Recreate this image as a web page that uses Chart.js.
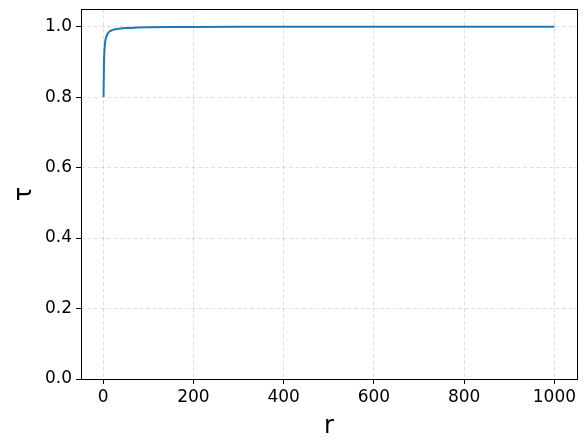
<!DOCTYPE html>
<html>
<head>
<meta charset="utf-8">
<script src="https://cdn.jsdelivr.net/npm/chart.js@4/dist/chart.umd.min.js"></script>
<style>
    html, body { margin: 0; padding: 0; background: #fff; }
    #wrap { width: 588px; height: 447px; }
</style>
</head>
<body>
<div id="wrap"><canvas id="c"></canvas></div>
<script>
// values
var rValues = [1, 2, 3, 4, 5, 7, 10, 15, 20, 30, 50, 75, 100, 150, 200, 300, 500, 700, 1000];
var tauValues = [0.80, 0.90, 0.933, 0.95, 0.96, 0.971, 0.98, 0.987, 0.99, 0.993, 0.996, 0.9973, 0.998, 0.9987, 0.999, 0.9993, 0.9996, 0.9997, 0.9998];
var xTicks = [0, 200, 400, 600, 800, 1000];
var yTicks = [0.0, 0.2, 0.4, 0.6, 0.8, 1.0];

var FONT = "'DejaVu Sans', sans-serif";

var points = rValues.map(function (r, i) { return { x: r, y: tauValues[i] }; });

/* ---- box around plot area, like matplotlib spines ---- */
var frame = {
    id: 'frame',
    afterDraw: function (chart) {
        var a = chart.chartArea, ctx = chart.ctx;
        ctx.save();
        ctx.strokeStyle = '#000';
        ctx.lineWidth = 1;
        ctx.strokeRect(Math.round(a.left) + 0.5, Math.round(a.top) + 0.5,
            Math.round(a.right - a.left), Math.round(a.bottom - a.top));
        ctx.restore();
    }
};

function gridOpts() {
    return {
        color: 'rgba(0,0,0,0.16)',
        lineWidth: 0.8,
        tickColor: '#000',
        tickWidth: 1,
        tickLength: 5,
        tickBorderDash: [],
        drawTicks: true
    };
}

new Chart(document.getElementById('c'), {
    type: 'line',
    data: {
        datasets: [{
            data: points,
            borderColor: '#1f77b4',
            borderWidth: 2,
            pointRadius: 0,
            fill: false,
            tension: 0.4,
            cubicInterpolationMode: 'monotone'
        }]
    },
    options: {
        responsive: true,
        maintainAspectRatio: false,
        animation: false,
        events: [],
        layout: { padding: { top: 9, right: 11, left: 0, bottom: 0 } },
        plugins: { legend: { display: false }, tooltip: { enabled: false } },
        scales: {
            x: {
                type: 'linear',
                min: -49,
                max: 1050,
                afterBuildTicks: function (s) { s.ticks = xTicks.map(function (v) { return { value: v }; }); },
                afterFit: function (s) { s.height = 68; s.paddingLeft = 0; s.paddingRight = 0; },
                grid: gridOpts(),
                border: { display: false, dash: [4, 2.5] },
                ticks: {
                    color: '#000', font: { family: FONT, size: 17 }, padding: 3, maxRotation: 0,
                    callback: function (v) { return String(v); }
                },
                title: { display: true, text: 'r', color: '#000', font: { family: FONT, size: 24 }, padding: { top: 4, bottom: 6 } }
            },
            y: {
                type: 'linear',
                min: 0,
                max: 1.05,
                afterBuildTicks: function (s) { s.ticks = yTicks.map(function (v) { return { value: v }; }); },
                afterFit: function (s) { s.width = 81; s.paddingTop = 0; s.paddingBottom = 0; },
                grid: gridOpts(),
                border: { display: false, dash: [4, 2.5] },
                ticks: {
                    color: '#000', font: { family: FONT, size: 17 }, padding: 4,
                    callback: function (v) { return v.toFixed(1); }
                },
                title: { display: true, text: 'τ', color: '#000', font: { family: FONT, size: 24 }, padding: { top: 10, bottom: 4 } }
            }
        }
    },
    plugins: [frame]
});
</script>
</body>
</html>
